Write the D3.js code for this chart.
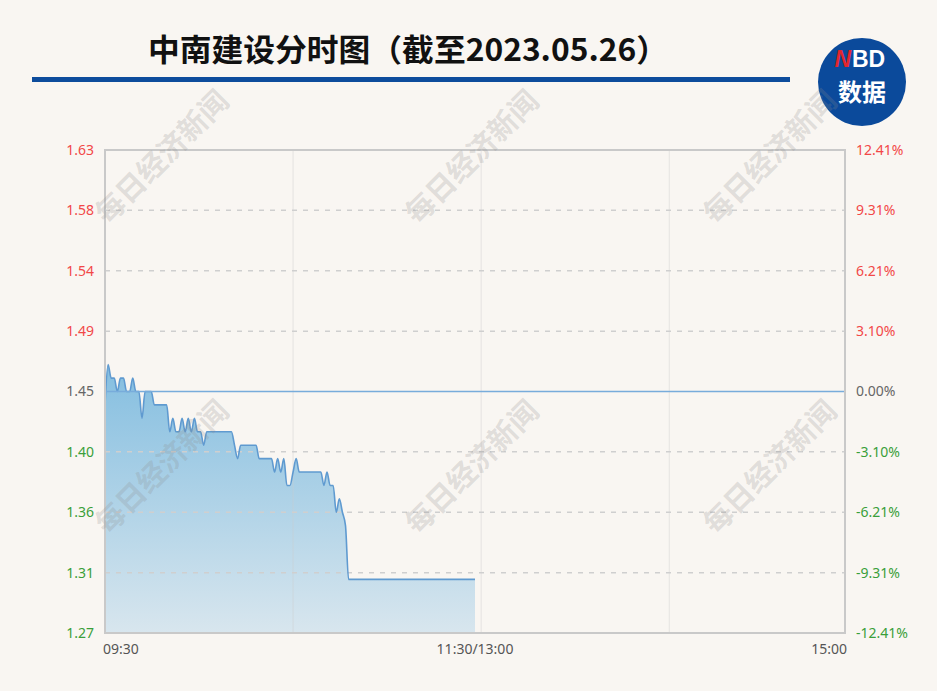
<!DOCTYPE html>
<html>
<head>
<meta charset="utf-8">
<script src="https://cdn.jsdelivr.net/npm/d3@7"></script>
<style>
  html, body { margin: 0; padding: 0; background: #f9f6f2; }
  svg { display: block; }
</style>
</head>
<body>
<svg id="chart" width="937" height="691"></svg>
<script>
// ---------- data ----------
const titleText = "中南建设分时图（截至2023.05.26）";
const basePrice = 1.45;
const pctTicks = [12.41, 9.31, 6.21, 3.10, 0.00, -3.10, -6.21, -9.31, -12.41];
const priceTickLabels = ["1.63", "1.58", "1.54", "1.49", "1.45", "1.40", "1.36", "1.31", "1.27"];
const timeLabels = ["09:30", "11:30/13:00", "15:00"];
const timeLabelMinutes = [0, 120, 240];
const gridMinutes = [61, 122, 183];
// minute-by-minute prices from 09:30 (index 0)
const prices = [
  1.44, 1.47, 1.46, 1.46, 1.45, 1.46, 1.46, 1.45, 1.45, 1.46,
  1.45, 1.45, 1.43, 1.45, 1.45, 1.45, 1.44, 1.44, 1.44, 1.44,
  1.44, 1.42, 1.43, 1.42, 1.42, 1.43, 1.42, 1.43, 1.42, 1.43,
  1.42, 1.42, 1.41, 1.42, 1.42, 1.42, 1.42, 1.42, 1.42, 1.42,
  1.42, 1.42, 1.41, 1.40, 1.41, 1.41, 1.41, 1.41, 1.41, 1.41,
  1.40, 1.40, 1.40, 1.40, 1.40, 1.39, 1.40, 1.39, 1.40, 1.38,
  1.38, 1.39, 1.40, 1.39, 1.39, 1.39, 1.39, 1.39, 1.39, 1.39,
  1.39, 1.38, 1.39, 1.38, 1.38, 1.36, 1.37, 1.36, 1.35, 1.31,
  1.31, 1.31, 1.31, 1.31, 1.31, 1.31, 1.31, 1.31, 1.31, 1.31,
  1.31, 1.31, 1.31, 1.31, 1.31, 1.31, 1.31, 1.31, 1.31, 1.31,
  1.31, 1.31, 1.31, 1.31, 1.31, 1.31, 1.31, 1.31, 1.31, 1.31,
  1.31, 1.31, 1.31, 1.31, 1.31, 1.31, 1.31, 1.31, 1.31, 1.31,
  1.31
];

// ---------- layout ----------
const svg = d3.select("#chart");
const plot = { left: 105, right: 845, top: 150, bottom: 633 };
const maxPct = 12.41;

const x = d3.scaleLinear().domain([0, 240]).range([plot.left, plot.right]);
const y = d3.scaleLinear()
  .domain([basePrice * (1 - maxPct / 100), basePrice * (1 + maxPct / 100)])
  .range([plot.bottom, plot.top]);

const RED = "#f24848", GREEN = "#3a9f3a", GRAY = "#666666";
const colorFor = p => p > 0 ? RED : (p < 0 ? GREEN : GRAY);
const labelFont = "'Noto Sans', 'DejaVu Sans', sans-serif";

// background
svg.append("rect").attr("width", 937).attr("height", 691).attr("fill", "#f9f6f2");

// title
svg.append("text")
  .attr("x", 148).attr("y", 61)
  .attr("textLength", 520).attr("lengthAdjust", "spacingAndGlyphs")
  .attr("font-family", "'Noto Sans CJK SC', sans-serif")
  .attr("font-weight", "bold").attr("font-size", 31)
  .attr("fill", "#111")
  .text(titleText);

svg.append("rect").attr("x", 32).attr("y", 77).attr("width", 758).attr("height", 5)
  .attr("fill", "#0d4c9c");

// logo
const logo = svg.append("g");
logo.append("circle").attr("cx", 862).attr("cy", 82).attr("r", 44).attr("fill", "#0b4a9b");
logo.append("text").attr("x", 851).attr("y", 67).attr("text-anchor", "end")
  .attr("font-family", "'Liberation Sans', Arial, sans-serif").attr("font-weight", "bold")
  .attr("font-style", "italic").attr("font-size", 23).attr("fill", "#e3262d").text("N");
logo.append("text").attr("x", 852).attr("y", 67).attr("text-anchor", "start")
  .attr("font-family", "'Liberation Sans', Arial, sans-serif").attr("font-weight", "bold")
  .attr("font-size", 23).attr("fill", "#ffffff").text("BD");
logo.append("text").attr("x", 862).attr("y", 101).attr("text-anchor", "middle")
  .attr("font-family", "'Noto Sans CJK SC', sans-serif").attr("font-weight", "bold")
  .attr("font-size", 24).attr("fill", "#ffffff").text("数据");

// gradient
const defs = svg.append("defs");
const grad = defs.append("linearGradient").attr("id", "areaGrad")
  .attr("gradientUnits", "userSpaceOnUse")
  .attr("x1", 0).attr("y1", 365).attr("x2", 0).attr("y2", plot.bottom);
grad.append("stop").attr("offset", "0%").attr("stop-color", "#84bee0");
grad.append("stop").attr("offset", "100%").attr("stop-color", "#d8e6ee");

// area + line
const area = d3.area()
  .x((d, i) => x(i)).y0(plot.bottom).y1(d => y(d))
  .curve(d3.curveMonotoneX);
const line = d3.line()
  .x((d, i) => x(i)).y(d => y(d))
  .curve(d3.curveMonotoneX);

svg.append("path").datum(prices).attr("d", area).attr("fill", "url(#areaGrad)");

// vertical grid lines
svg.append("g").selectAll("line").data(gridMinutes).join("line")
  .attr("x1", d => x(d)).attr("x2", d => x(d))
  .attr("y1", plot.top).attr("y2", plot.bottom)
  .attr("stroke", "rgba(205,205,205,0.45)").attr("stroke-width", 1);

// horizontal dashed grid lines
const tickPrices = pctTicks.map(p => basePrice * (1 + p / 100));
svg.append("g").selectAll("line")
  .data(tickPrices.filter((d, i) => i > 0 && i < pctTicks.length - 1 && pctTicks[i] !== 0))
  .join("line")
  .attr("x1", plot.left).attr("x2", plot.right)
  .attr("y1", d => y(d)).attr("y2", d => y(d))
  .attr("stroke", "#cfcfcf").attr("stroke-width", 1.5)
  .attr("stroke-dasharray", "5,6");

svg.append("path").datum(prices).attr("d", line)
  .attr("fill", "none").attr("stroke", "#5f9ad0").attr("stroke-width", 1.6);

// base line
svg.append("line")
  .attr("x1", plot.left).attr("x2", plot.right)
  .attr("y1", y(basePrice)).attr("y2", y(basePrice))
  .attr("stroke", "#78acdb").attr("stroke-width", 1.5);

// frame
svg.append("rect")
  .attr("x", plot.left).attr("y", plot.top)
  .attr("width", plot.right - plot.left).attr("height", plot.bottom - plot.top)
  .attr("fill", "none").attr("stroke", "#c9c9c9").attr("stroke-width", 2);

// left axis (price)
const leftAxis = d3.axisLeft(y).tickValues(tickPrices)
  .tickFormat((d, i) => priceTickLabels[i]).tickSize(0).tickPadding(11);
const gl = svg.append("g").attr("transform", `translate(${plot.left},0)`).call(leftAxis);
gl.select(".domain").remove();
gl.selectAll("text").attr("font-family", labelFont).attr("font-size", 14)
  .attr("fill", (d, i) => colorFor(pctTicks[i]));

// right axis (pct)
const rightAxis = d3.axisRight(y).tickValues(tickPrices)
  .tickFormat((d, i) => pctTicks[i].toFixed(2) + "%").tickSize(0).tickPadding(11);
const gr = svg.append("g").attr("transform", `translate(${plot.right},0)`).call(rightAxis);
gr.select(".domain").remove();
gr.selectAll("text").attr("font-family", labelFont).attr("font-size", 14)
  .attr("fill", (d, i) => colorFor(pctTicks[i]));

// bottom time labels
svg.append("g").selectAll("text").data(timeLabels).join("text")
  .attr("x", (d, i) => x(timeLabelMinutes[i]) + (i === 0 ? -2 : (i === 2 ? 2 : 0)))
  .attr("y", 654)
  .attr("text-anchor", (d, i) => i === 0 ? "start" : (i === 2 ? "end" : "middle"))
  .attr("font-family", labelFont).attr("font-size", 14).attr("fill", "#555")
  .text(d => d);

// watermarks
const wmX = [160, 470, 768], wmY = [155, 465];
const wm = svg.append("g").attr("pointer-events", "none");
wmY.forEach(cy => wmX.forEach(cx => {
  wm.append("text")
    .attr("transform", `translate(${cx},${cy}) rotate(-45)`)
    .attr("text-anchor", "middle").attr("dominant-baseline", "central")
    .attr("font-family", "'Noto Sans CJK SC', sans-serif").attr("font-weight", "bold")
    .attr("font-size", 29).attr("fill", "rgba(140,140,140,0.24)")
    .text("每日经济新闻");
}));
</script>
</body>
</html>
